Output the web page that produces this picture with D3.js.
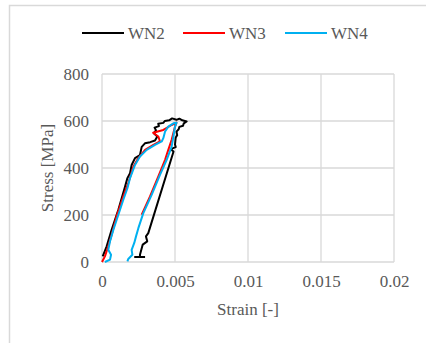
<!DOCTYPE html>
<html><head><meta charset="utf-8">
<script src="https://cdn.jsdelivr.net/npm/d3@7"></script>
<style>body{margin:0;background:#fff}</style>
</head><body>
<script>
const seriesNames = ["WN2", "WN3", "WN4"];
const seriesColors = ["#000000", "#ff0000", "#00b0f0"];
const xTicks = [0, 0.005, 0.01, 0.015, 0.02];
const xTickLabels = ["0", "0.005", "0.01", "0.015", "0.02"];
const yTicks = [0, 200, 400, 600, 800];

const wn2Strain = [0.00005,0.00032,0.00066,0.00112,0.00158,0.00174,0.00192,0.00203,0.00226,0.0026,0.00272,0.00294,0.0033,0.00363,0.00379,0.00355,0.0037,0.0036,0.0039,0.00385,0.0042,0.0043,0.0046,0.0048,0.0051,0.0053,0.0055,0.0058,0.0056,0.00555,0.0053,0.00525,0.0051,0.00515,0.00505,0.005,0.00505,0.0047,0.0049,0.00317,0.00301,0.0031,0.00279,0.0026,0.0026,0.00226,0.00295];
const wn2Stress = [24,67,137,222,321,357,378,413,442,455,490,505,510,517,534,548,560,572,578,588,592,600,603,611,605,610,603,598,590,580,575,565,555,540,530,500,489,480,470,123,109,88,74,31,21,21,21];

const wn3Strain = [0,0.0002,0.00043,0.00066,0.001,0.00146,0.0018,0.00215,0.00249,0.00295,0.00352,0.00397,0.00386,0.0035,0.0042,0.00477,0.0051,0.005,0.00477,0.00454,0.00432,0.00386,0.00329,0.00272];
const wn3Stress = [0,24,67,116,194,279,336,406,442,477,498,513,534,550,562,583,593,576,520,477,435,364,279,201];

const wn4Strain = [0.0002,0.00055,0.00062,0.00043,0.00055,0.00078,0.00112,0.00146,0.00174,0.00192,0.00226,0.0026,0.00306,0.00363,0.00409,0.0042,0.00432,0.00454,0.00489,0.00511,0.005,0.00489,0.00477,0.00443,0.00397,0.0034,0.00283,0.00249,0.00233,0.00221,0.00203,0.00208,0.0018,0.00174];
const wn4Stress = [0,10,31,52,88,137,201,265,314,357,413,449,477,498,513,527,555,576,590,593,576,534,491,435,371,286,208,144,109,81,52,31,13,3];

const W = 426, H = 343;
const FONT = "Liberation Serif";
const FS = 17;
const TXT = "#595959";
const svg = d3.select("body").append("svg").attr("width", W).attr("height", H)
  .style("font-family", FONT).attr("font-family", FONT);

svg.append("path").attr("d", "M9.5,343 V5.5 H426").attr("fill","none").attr("stroke","#d9d9d9").attr("stroke-width",1.5);

const x = d3.scaleLinear().domain([0, 0.02]).range([102, 394]);
const y = d3.scaleLinear().domain([0, 800]).range([262, 74]);

const grid = svg.append("g");
grid.selectAll("line.v").data(xTicks).join("line")
  .attr("x1", d => x(d)).attr("x2", d => x(d)).attr("y1", y(0)).attr("y2", y(800))
  .attr("stroke", "#d9d9d9").attr("stroke-width", 1.3);
grid.selectAll("line.h").data(yTicks).join("line")
  .attr("y1", d => y(d)).attr("y2", d => y(d)).attr("x1", x(0)).attr("x2", x(0.02))
  .attr("stroke", "#d9d9d9").attr("stroke-width", 1.3);

const xAxis = d3.axisBottom(x).tickValues(xTicks).tickFormat((d,i) => xTickLabels[i]).tickSize(0).tickPadding(13);
const gx = svg.append("g").attr("transform", `translate(0,${y(0)})`).call(xAxis);
gx.attr("font-family", FONT).attr("font-size", FS);
gx.select(".domain").remove();
gx.selectAll("text").style("font-family", FONT).attr("font-size", FS).attr("fill", TXT);

const yAxis = d3.axisLeft(y).tickValues(yTicks).tickFormat(d3.format("d")).tickSize(0).tickPadding(13);
const gy = svg.append("g").attr("transform", `translate(${x(0)},0)`).call(yAxis);
gy.attr("font-family", FONT).attr("font-size", FS);
gy.select(".domain").remove();
gy.selectAll("text").style("font-family", FONT).attr("font-size", FS).attr("fill", TXT);

svg.append("text").attr("x", 248).attr("y", 315).attr("text-anchor", "middle")
  .style("font-family", FONT).attr("font-size", FS).attr("fill", TXT).text("Strain [-]");
svg.append("text").attr("transform", "translate(53,168) rotate(-90)").attr("text-anchor", "middle")
  .style("font-family", FONT).attr("font-size", FS).attr("fill", TXT).text("Stress [MPa]");

const series = [
  {strain: wn2Strain, stress: wn2Stress},
  {strain: wn3Strain, stress: wn3Stress},
  {strain: wn4Strain, stress: wn4Stress}
];
const line = d3.line().x(d => x(d[0])).y(d => y(d[1]));
series.forEach((s, i) => {
  const pts = s.strain.map((v, k) => [v, s.stress[k]]);
  svg.append("path").datum(pts).attr("d", line).attr("fill", "none")
    .attr("stroke", seriesColors[i]).attr("stroke-width", 2).attr("stroke-linejoin", "round");
});

const legX = [82, 183, 285];
seriesNames.forEach((n, i) => {
  svg.append("line").attr("x1", legX[i]).attr("x2", legX[i] + 42).attr("y1", 33).attr("y2", 33)
    .attr("stroke", seriesColors[i]).attr("stroke-width", 2);
  svg.append("text").attr("x", legX[i] + 46).attr("y", 38.5)
    .style("font-family", FONT).attr("font-size", FS).attr("fill", TXT).text(n);
});
</script>
</body></html>
